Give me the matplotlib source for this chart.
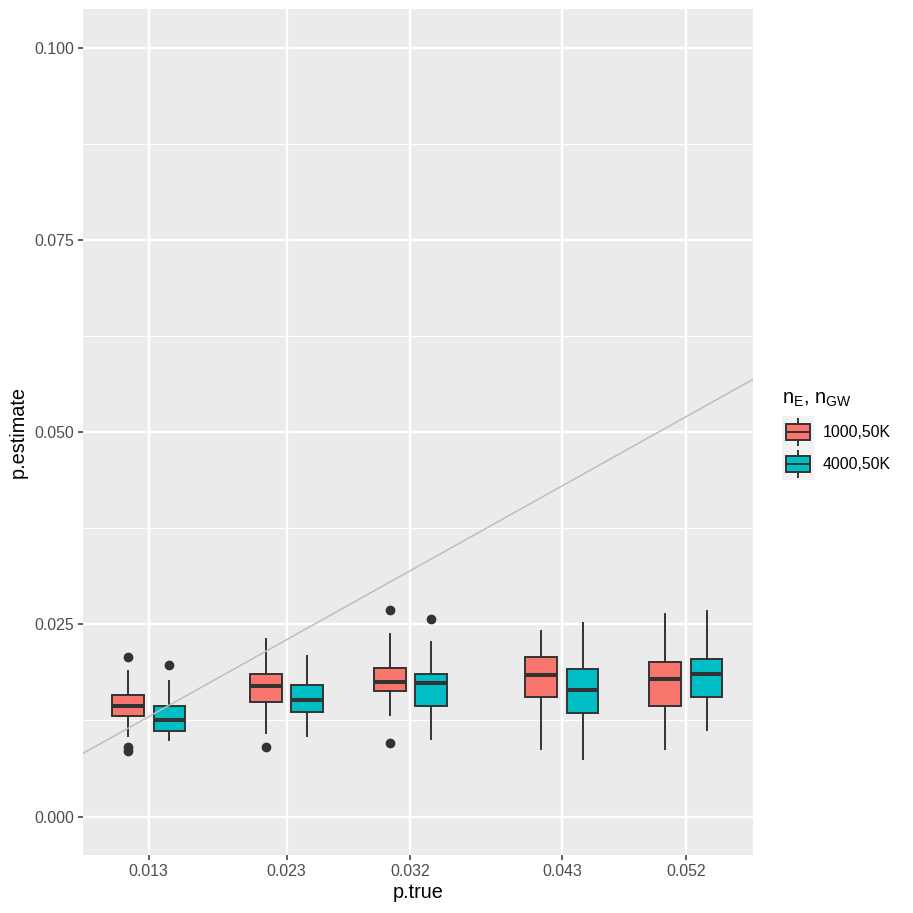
import numpy as np
import matplotlib
matplotlib.use("Agg")
import matplotlib.pyplot as plt
from matplotlib.patches import Patch, Rectangle
from matplotlib.lines import Line2D
from matplotlib.legend_handler import HandlerBase

plt.rcParams['font.family'] = ['Liberation Sans', 'DejaVu Sans']
plt.rcParams['mathtext.fontset'] = 'custom'
plt.rcParams['mathtext.rm'] = 'Liberation Sans'

# x positions (true p)
P_TRUE = [0.013, 0.023, 0.032, 0.043, 0.052]
GROUPS = ["1000,50K", "4000,50K"]
COLORS = ["#F8766D", "#00BFC4"]

# box stats, group "1000,50K"
RED_WHISLO = [0.01042, 0.01085, 0.01315, 0.00877, 0.00885]
RED_Q1 = [0.01306, 0.01493, 0.01632, 0.01549, 0.01441]
RED_MED = [0.01441, 0.01693, 0.01753, 0.01845, 0.01784]
RED_Q3 = [0.01576, 0.01853, 0.01936, 0.02074, 0.02005]
RED_WHISHI = [0.01888, 0.02305, 0.02370, 0.02413, 0.02639]
RED_FLIERS = [[0.02074, 0.00903, 0.00859], [0.00911], [0.02687, 0.00955], [], []]

# group "4000,50K"
TEAL_WHISLO = [0.00998, 0.01042, 0.01003, 0.00755, 0.01124]
TEAL_Q1 = [0.01107, 0.01354, 0.01432, 0.01345, 0.01558]
TEAL_MED = [0.01250, 0.01519, 0.01736, 0.01641, 0.01849]
TEAL_Q3 = [0.01432, 0.01710, 0.01858, 0.01914, 0.02053]
TEAL_WHISHI = [0.01767, 0.02092, 0.02274, 0.02513, 0.02674]
TEAL_FLIERS = [[0.01975], [], [0.02569], [], []]

Y_TICKS = [0.0, 0.025, 0.05, 0.075, 0.1]
Y_MINOR = [0.0125, 0.0375, 0.0625, 0.0875]

DODGE = 0.0015
BOX_W = 0.0023
EDGE = "#333333"


def make_stats(wlo, q1, med, q3, whi, fl):
    stats = []
    for i in range(len(med)):
        stats.append(dict(whislo=wlo[i], q1=q1[i], med=med[i], q3=q3[i],
                          whishi=whi[i], fliers=fl[i]))
    return stats


class BoxKey(HandlerBase):
    def create_artists(self, legend, orig_handle, xdescent, ydescent,
                       width, height, fontsize, trans):
        x0, y0 = -xdescent, -ydescent
        bg = Rectangle((x0, y0), width, height, facecolor="#F2F2F2",
                       edgecolor="none", transform=trans)
        box = Rectangle((x0 + 0.125 * width, y0 + 0.25 * height),
                        0.75 * width, 0.5 * height,
                        facecolor=orig_handle.get_facecolor(),
                        edgecolor=EDGE, lw=1.4, transform=trans)
        xm = x0 + width / 2
        w1 = Line2D([xm, xm], [y0 + 0.1 * height, y0 + 0.25 * height],
                    color=EDGE, lw=1.4, transform=trans)
        w2 = Line2D([xm, xm], [y0 + 0.75 * height, y0 + 0.9 * height],
                    color=EDGE, lw=1.4, transform=trans)
        md = Line2D([x0 + 0.125 * width, x0 + 0.875 * width],
                    [y0 + height / 2] * 2, color=EDGE, lw=1.4, transform=trans)
        return [bg, w1, w2, box, md]


fig = plt.figure(figsize=(9.13, 9.13), dpi=100)
ax = fig.add_axes([0.0909, 0.0635, 0.7335, 0.9263])
ax.set_facecolor("#EBEBEB")

all_stats = [
    make_stats(RED_WHISLO, RED_Q1, RED_MED, RED_Q3, RED_WHISHI, RED_FLIERS),
    make_stats(TEAL_WHISLO, TEAL_Q1, TEAL_MED, TEAL_Q3, TEAL_WHISHI, TEAL_FLIERS),
]
offsets = [-DODGE, DODGE]

for stats, off, col in zip(all_stats, offsets, COLORS):
    pos = [p + off for p in P_TRUE]
    ax.bxp(stats, positions=pos, widths=BOX_W, patch_artist=True,
           showcaps=False, manage_ticks=False,
           boxprops=dict(facecolor=col, edgecolor=EDGE, lw=1.4),
           medianprops=dict(color=EDGE, lw=2.9, solid_capstyle="butt"),
           whiskerprops=dict(color=EDGE, lw=1.4),
           flierprops=dict(marker="o", markerfacecolor=EDGE,
                           markeredgecolor=EDGE, markersize=6.0),
           zorder=3)

# y = x reference line
ax.axline((0, 0), slope=1, color="#BEBEBE", lw=1.1, zorder=4)

ax.set_xlim(0.008222, 0.05685)
ax.set_ylim(-0.005, 0.105)
ax.set_xticks(P_TRUE)
ax.set_xticklabels([f"{p:.3f}" for p in P_TRUE])
ax.set_yticks(Y_TICKS)
ax.set_yticklabels([f"{y:.3f}" for y in Y_TICKS])
ax.set_yticks(Y_MINOR, minor=True)
ax.tick_params(which="major", length=3.6, width=1.1, color="#333333",
               labelcolor="#4D4D4D", labelsize=11.4, pad=2.8)
ax.tick_params(which="minor", length=0)
ax.grid(which="major", color="white", lw=1.7)
ax.grid(which="minor", axis="y", color="white", lw=0.85)
ax.set_axisbelow(True)
for s in ax.spines.values():
    s.set_visible(False)

ax.set_xlabel("p.true", fontsize=14.3, labelpad=3)
ax.set_ylabel("p.estimate", fontsize=14.3, labelpad=5)

handles = [Patch(facecolor=c) for c in COLORS]
leg = ax.legend(handles, GROUPS, handler_map={Patch: BoxKey()},
                title=r"$\mathregular{n_E}$, $\mathregular{n_{GW}}$",
                loc="center left", bbox_to_anchor=(0.8565, 0.524),
                bbox_transform=fig.transFigure, frameon=False,
                handlelength=2.0, handleheight=2.75, labelspacing=0,
                handletextpad=0.55, borderpad=0, borderaxespad=0,
                fontsize=11.4, title_fontsize=14.3, alignment="left")
# a little room between legend title and keys
leg._legend_box.sep = 5

fig.savefig("out.png", dpi=100)
